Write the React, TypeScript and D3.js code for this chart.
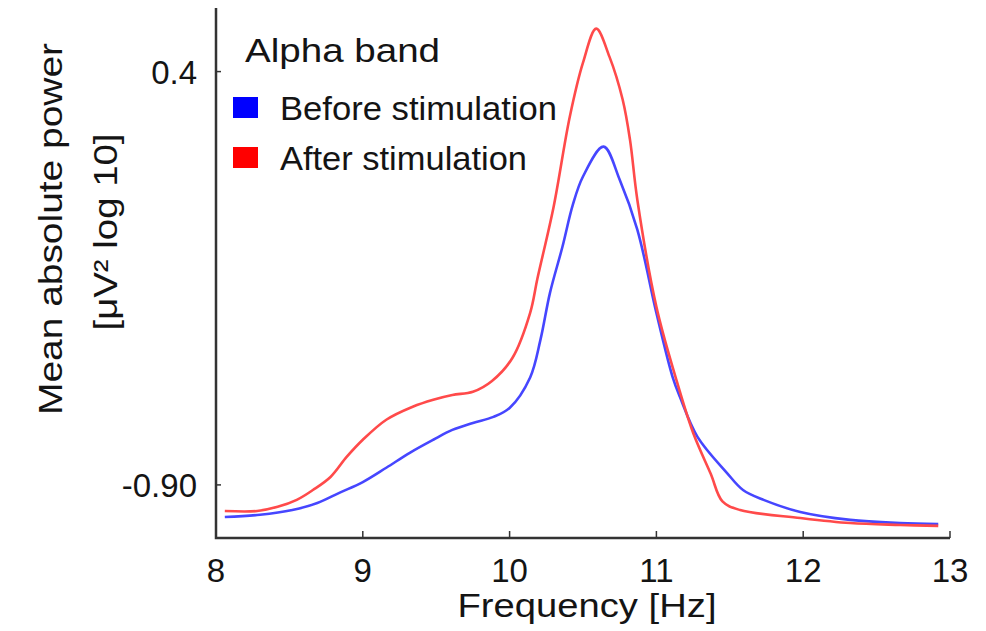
import React from "react";
import * as d3 from "d3";

const beforeFreq = [8.06, 8.3, 8.52, 8.69, 8.84, 9.0, 9.16, 9.32, 9.48, 9.61, 9.75, 9.89, 10.0, 10.14, 10.21, 10.275, 10.36, 10.43, 10.5, 10.64, 10.75, 10.87, 11.0, 11.11, 11.16, 11.28, 11.48, 11.59, 11.73, 11.98, 12.32, 12.66, 12.92];
const beforeValues = [-1.001, -0.994, -0.979, -0.957, -0.925, -0.891, -0.846, -0.799, -0.758, -0.727, -0.705, -0.686, -0.658, -0.562, -0.444, -0.296, -0.151, -0.02, 0.07, 0.164, 0.06, -0.097, -0.359, -0.56, -0.623, -0.749, -0.862, -0.916, -0.947, -0.985, -1.01, -1.02, -1.023];

const afterFreq = [8.06, 8.28, 8.42, 8.55, 8.66, 8.78, 8.89, 9.0, 9.16, 9.34, 9.48, 9.61, 9.75, 9.88, 10.02, 10.14, 10.19, 10.3, 10.41, 10.5, 10.59, 10.68, 10.77, 10.82, 10.87, 11.0, 11.13, 11.25, 11.37, 11.45, 11.57, 11.98, 12.32, 12.66, 12.92];
const afterValues = [-0.982, -0.982, -0.969, -0.947, -0.916, -0.875, -0.812, -0.758, -0.695, -0.654, -0.632, -0.617, -0.607, -0.573, -0.5, -0.359, -0.25, -0.025, 0.258, 0.428, 0.535, 0.447, 0.312, 0.186, -0.003, -0.34, -0.56, -0.736, -0.865, -0.952, -0.979, -1.004, -1.02, -1.026, -1.029];

const xTicks = [8, 9, 10, 11, 12, 13];
const yTicks = [0.4, -0.9];
const yTickLabels = ["0.4", "-0.90"];
const legendTitle = "Alpha band";
const seriesNames = ["Before stimulation", "After stimulation"];
const seriesLineColors = ["#4646ff", "#ff4a4a"];
const seriesSwatchColors = ["#0000ff", "#ff0000"];

const FONT = "'Liberation Sans', Arial, Helvetica, sans-serif";
const TEXT = "#141414";

export default function App() {
  const x = d3.scaleLinear().domain([8, 13]).range([216, 950]);
  const y = d3.scaleLinear().domain([-1.067, 0.6]).range([538, 8]);

  const line = d3
    .line<[number, number]>()
    .x((d) => x(d[0]))
    .y((d) => y(d[1]))
    .curve(d3.curveCatmullRom.alpha(0.5));

  const series = [
    beforeFreq.map((f, i) => [f, beforeValues[i]] as [number, number]),
    afterFreq.map((f, i) => [f, afterValues[i]] as [number, number]),
  ];

  const [x0, x1] = x.range();
  const [yb, yt] = y.range();

  return (
    <svg width={986} height={631} style={{ position: "absolute", left: 0, top: 0, background: "#fff" }}>
      <rect x={0} y={0} width={986} height={631} fill="#fff" />
      {/* axes */}
      <path d={`M${x0},${yt}V${yb}H${x1}`} fill="none" stroke="#333" strokeWidth={2.5} />
      {xTicks.map((t) => (
        <g key={t}>
          {t !== 8 && <line x1={x(t)} x2={x(t)} y1={yb} y2={yb - 7} stroke="#333" strokeWidth={1.5} />}
          <text x={x(t)} y={582} textAnchor="middle" fontFamily={FONT} fontSize={33} fill={TEXT}>
            {t}
          </text>
        </g>
      ))}
      {yTicks.map((t, i) => (
        <g key={t}>
          <line x1={x0} x2={x0 + 5} y1={y(t)} y2={y(t)} stroke="#333" strokeWidth={1.5} />
          <text x={197} y={y(t) + 12} textAnchor="end" fontFamily={FONT} fontSize={33} fill={TEXT}>
            {yTickLabels[i]}
          </text>
        </g>
      ))}
      {/* lines */}
      {series.map((s, i) => (
        <path key={i} d={line(s) || ""} fill="none" stroke={seriesLineColors[i]} strokeWidth={2.6} strokeLinejoin="round" />
      ))}
      {/* axis titles */}
      <text x={587} y={617} textAnchor="middle" fontFamily={FONT} fontSize={34} fill={TEXT} textLength={259} lengthAdjust="spacingAndGlyphs">
        Frequency [Hz]
      </text>
      <text transform="translate(62,229) rotate(-90)" textAnchor="middle" fontFamily={FONT} fontSize={34} fill={TEXT} textLength={372} lengthAdjust="spacingAndGlyphs">
        Mean absolute power
      </text>
      <text transform="translate(117,232) rotate(-90)" textAnchor="middle" fontFamily={FONT} fontSize={34} fill={TEXT} textLength={197} lengthAdjust="spacingAndGlyphs">
        [μV² log 10]
      </text>
      {/* legend */}
      <text x={245} y={62} fontFamily={FONT} fontSize={34} fill={TEXT} textLength={195} lengthAdjust="spacingAndGlyphs">
        {legendTitle}
      </text>
      {seriesNames.map((n, i) => (
        <g key={n}>
          <rect x={233} y={97 + i * 50} width={25} height={21} fill={seriesSwatchColors[i]} />
          <text x={280} y={120 + i * 50} fontFamily={FONT} fontSize={33} fill={TEXT} textLength={i === 0 ? 277 : 247} lengthAdjust="spacingAndGlyphs">
            {n}
          </text>
        </g>
      ))}
    </svg>
  );
}
